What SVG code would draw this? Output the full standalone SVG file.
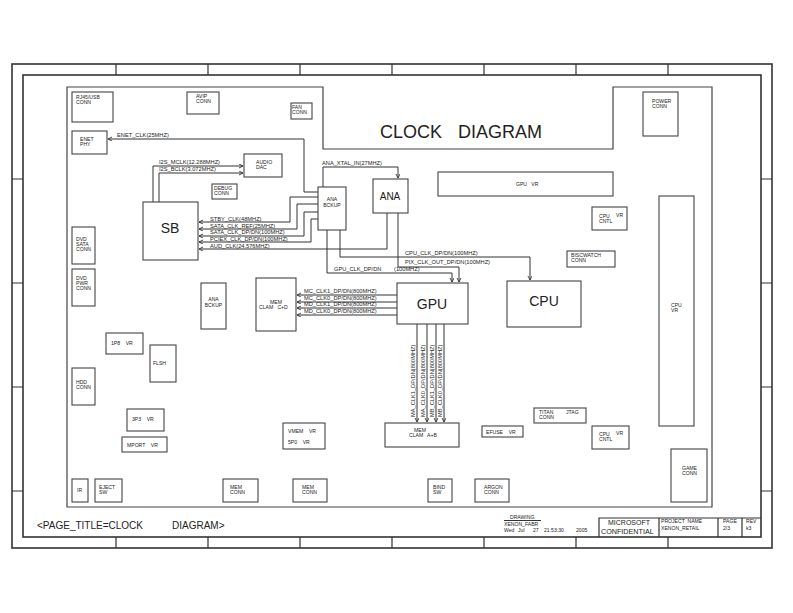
<svg xmlns="http://www.w3.org/2000/svg" width="793" height="613" viewBox="0 0 793 613" xml:space="preserve">
<defs>
<style>
.fr{fill:none;stroke:#333;stroke-width:1.6}
.tk{fill:none;stroke:#333;stroke-width:1.2}
.bd{fill:none;stroke:#444;stroke-width:1.2}
.bx{fill:#fff;stroke:#444;stroke-width:1.1}
.cn{fill:none;stroke:#333;stroke-width:1}
text{font-family:"Liberation Sans",Arial,sans-serif;fill:#222;white-space:pre}
.s{font-size:5.1px}
.l{font-size:5.7px}
.big{font-size:14px}
</style>
<marker id="ar" markerUnits="userSpaceOnUse" markerWidth="6" markerHeight="6" refX="4" refY="2" orient="auto">
<path d="M0,0 L4,2 L0,4" fill="none" stroke="#333" stroke-width="0.9"/>
</marker>
</defs>
<rect width="793" height="613" fill="#fff"/>
<g id="frame">
<rect class="fr" x="12" y="64" width="760" height="484"/>
<rect class="fr" x="23" y="75" width="738" height="462"/>
<path class="tk" d="M116,64V75M208,64V75M300,64V75M392,64V75M484,64V75M576,64V75M668,64V75M116,537V548M208,537V548M300,537V548M392,537V548M484,537V548M576,537V548M668,537V548M12,179H23M12,283H23M12,387H23M12,491H23M761,179H772M761,283H772M761,387H772M761,491H772"/>
<path class="bd" d="M67,87H323V149H613V87H712V507H67Z"/>
<text x="380" y="138" style="font-size:18px">CLOCK</text>
<text x="458" y="138" style="font-size:18px">DIAGRAM</text>
</g>
<g id="connectors" class="cn">
<path class="cn" d="M318,192H304V139H108" marker-end="url(#ar)"/>
<path class="cn" d="M153,202V166H243" marker-end="url(#ar)"/>
<path class="cn" d="M159,202V173H243" marker-end="url(#ar)"/>
<path class="cn" d="M318,197H290V222H199" marker-end="url(#ar)"/>
<path class="cn" d="M318,204H297V229H199" marker-end="url(#ar)"/>
<path class="cn" d="M318,212H304V236H199" marker-end="url(#ar)"/>
<path class="cn" d="M318,219H311V242H199" marker-end="url(#ar)"/>
<path class="cn" d="M387,213V249H199" marker-end="url(#ar)"/>
<path class="cn" d="M323,187V167H398V178" marker-end="url(#ar)"/>
<path class="cn" d="M327,230V273H452V282" marker-end="url(#ar)"/>
<path class="cn" d="M340,230V257H530V280" marker-end="url(#ar)"/>
<path class="cn" d="M398,213V267H459V282" marker-end="url(#ar)"/>
<path class="cn" d="M397,295H297" marker-end="url(#ar)"/>
<path class="cn" d="M397,302H297" marker-end="url(#ar)"/>
<path class="cn" d="M397,308H297" marker-end="url(#ar)"/>
<path class="cn" d="M397,315H297" marker-end="url(#ar)"/>
<path class="cn" d="M417,324V422" marker-end="url(#ar)"/>
<path class="cn" d="M427,324V422" marker-end="url(#ar)"/>
<path class="cn" d="M436,324V422" marker-end="url(#ar)"/>
<path class="cn" d="M444,324V422" marker-end="url(#ar)"/>
</g>
<g id="connector-labels" class="l">
<text class="l" x="117" y="137">ENET_CLK(25MHZ)</text>
<text class="l" x="159" y="164">I2S_MCLK(12.288MHZ)</text>
<text class="l" x="159" y="171">I2S_BCLK(3.072MHZ)</text>
<text class="l" x="322" y="165">ANA_XTAL_IN(27MHZ)</text>
<text class="l" x="210" y="221">STBY_CLK(48MHZ)</text>
<text class="l" x="210" y="228">SATA_CLK_REF(25MHZ)</text>
<text class="l" x="210" y="234">SATA_CLK_DP/DN(100MHZ)</text>
<text class="l" x="210" y="241">PCIEX_CLK_DP/DN(100MHZ)</text>
<text class="l" x="210" y="248">AUD_CLK(24.576MHZ)</text>
<text class="l" x="405" y="255">CPU_CLK_DP/DN(100MHZ)</text>
<text class="l" x="405" y="264">PIX_CLK_OUT_DP/DN(100MHZ)</text>
<text class="l" x="334" y="271">GPU_CLK_DP/DN</text>
<text class="l" x="394" y="271">(100MHZ)</text>
<text class="l" x="304" y="293">MC_CLK1_DP/DN(800MHZ)</text>
<text class="l" x="304" y="300">MC_CLK0_DP/DN(800MHZ)</text>
<text class="l" x="304" y="306">MD_CLK1_DP/DN(800MHZ)</text>
<text class="l" x="304" y="313">MD_CLK0_DP/DN(800MHZ)</text>
<text class="l" transform="translate(415,417) rotate(-90)">MA_CLK1_DP/DN(800MHZ)</text>
<text class="l" transform="translate(425,417) rotate(-90)">MA_CLK0_DP/DN(800MHZ)</text>
<text class="l" transform="translate(434,417) rotate(-90)">MB_CLK1_DP/DN(800MHZ)</text>
<text class="l" transform="translate(442,417) rotate(-90)">MB_CLK0_DP/DN(800MHZ)</text>
</g>
<g id="sb"><rect class="bx" x="143" y="202" width="55" height="58"/><text class="big" x="170" y="233" text-anchor="middle">SB</text></g>
<g id="ana-bckup"><rect class="bx" x="318" y="187" width="28" height="43"/><text class="s" x="332" y="201" text-anchor="middle">ANA</text><text class="s" x="332" y="207" text-anchor="middle">BCKUP</text></g>
<g id="ana"><rect class="bx" x="373" y="179" width="35" height="34"/><text x="390" y="200" text-anchor="middle" style="font-size:10px">ANA</text></g>
<g id="gpu"><rect class="bx" x="397" y="283" width="71" height="41"/><text class="big" x="432" y="309" text-anchor="middle">GPU</text></g>
<g id="cpu"><rect class="bx" x="507" y="281" width="74" height="46"/><text class="big" x="544" y="306" text-anchor="middle">CPU</text></g>
<g id="mem-cd"><rect class="bx" x="256" y="278" width="40" height="53"/><text class="s" x="276" y="303.5" text-anchor="middle">MEM</text><text class="s" x="259" y="309">CLAM   C+D</text></g>
<g id="mem-ab"><rect class="bx" x="385" y="423" width="74" height="24"/><text class="s" x="420" y="431.5" text-anchor="middle">MEM</text><text class="s" x="409" y="437">CLAM   A+B</text></g>
<g id="rj45"><rect class="bx" x="72" y="92" width="41" height="30"/><text class="s" x="76" y="99">RJ45/USB</text><text class="s" x="76" y="104">CONN</text></g>
<g id="avip"><rect class="bx" x="187" y="92" width="32" height="22"/><text class="s" x="196" y="98">AVIP</text><text class="s" x="196" y="103">CONN</text></g>
<g id="fan"><rect class="bx" x="291" y="103" width="21" height="16"/><text class="s" x="292" y="108.5">FAN</text><text class="s" x="292" y="113.5">CONN</text></g>
<g id="enet"><rect class="bx" x="72" y="131" width="35" height="23"/><text class="s" x="80" y="141">ENET</text><text class="s" x="80" y="146">PHY</text></g>
<g id="audio-dac"><rect class="bx" x="244" y="154" width="38" height="23"/><text class="s" x="256" y="164">AUDIO</text><text class="s" x="256" y="169">DAC</text></g>
<g id="debug"><rect class="bx" x="212" y="184" width="25" height="15"/><text class="s" x="214" y="190">DEBUG</text><text class="s" x="214" y="195">CONN</text></g>
<g id="power"><rect class="bx" x="643" y="92" width="35" height="44"/><text class="s" x="652" y="103">POWER</text><text class="s" x="652" y="108">CONN</text></g>
<g id="gpu-vr"><rect class="bx" x="438" y="172" width="175" height="24"/><text class="s" x="516" y="186">GPU   VR</text></g>
<g id="cpu-vr-cntl-1"><rect class="bx" x="592" y="207" width="35" height="23"/><text class="s" x="599" y="218">CPU</text><text class="s" x="616" y="216.5">VR</text><text class="s" x="599" y="223">CNTL</text></g>
<g id="biscwatch"><rect class="bx" x="567" y="251" width="48" height="16"/><text class="s" x="571" y="257">BISCWATCH</text><text class="s" x="571" y="262">CONN</text></g>
<g id="cpu-vr"><rect class="bx" x="659" y="196" width="35" height="230"/><text class="s" x="671" y="307">CPU</text><text class="s" x="671" y="312">VR</text></g>
<g id="dvd-sata"><rect class="bx" x="72" y="227" width="23" height="37"/><text class="s" x="76" y="241">DVD</text><text class="s" x="76" y="246">SATA</text><text class="s" x="76" y="251">CONN</text></g>
<g id="dvd-pwr"><rect class="bx" x="72" y="269" width="23" height="37"/><text class="s" x="76" y="280">DVD</text><text class="s" x="76" y="285">PWR</text><text class="s" x="76" y="290">CONN</text></g>
<g id="hdd"><rect class="bx" x="72" y="368" width="23" height="37"/><text class="s" x="76" y="384">HDD</text><text class="s" x="76" y="389">CONN</text></g>
<g id="ana-bckup-2"><rect class="bx" x="201" y="283" width="25" height="46"/><text class="s" x="213.5" y="301" text-anchor="middle">ANA</text><text class="s" x="213.5" y="307" text-anchor="middle">BCKUP</text></g>
<g id="vr-1p8"><rect class="bx" x="106" y="333" width="37" height="21"/><text class="s" x="111" y="345">1P8    VR</text></g>
<g id="flsh"><rect class="bx" x="150" y="345" width="26" height="37"/><text class="s" x="153" y="365">FLSH</text></g>
<g id="vr-3p3"><rect class="bx" x="127" y="409" width="37" height="22"/><text class="s" x="132" y="421">3P3    VR</text></g>
<g id="mport"><rect class="bx" x="122" y="437" width="45" height="15"/><text class="s" x="127" y="446.5">MPORT    VR</text></g>
<g id="vmem"><rect class="bx" x="283" y="423" width="42" height="26"/><text class="s" x="288" y="433">VMEM    VR</text><text class="s" x="288" y="444">5P0    VR</text></g>
<g id="titan"><rect class="bx" x="534" y="408" width="52" height="15"/><text class="s" x="539" y="414">TITAN</text><text class="s" x="539" y="419">CONN</text><text class="s" x="566" y="414">JTAG</text></g>
<g id="efuse"><rect class="bx" x="482" y="426" width="41" height="11"/><text class="s" x="486" y="433.5">EFUSE    VR</text></g>
<g id="cpu-vr-cntl-2"><rect class="bx" x="592" y="426" width="37" height="23"/><text class="s" x="599" y="436">CPU</text><text class="s" x="616" y="434.5">VR</text><text class="s" x="599" y="441">CNTL</text></g>
<g id="game"><rect class="bx" x="671" y="449" width="36" height="53"/><text class="s" x="682" y="470">GAME</text><text class="s" x="682" y="475">CONN</text></g>
<g id="ir"><rect class="bx" x="72" y="479" width="16" height="23"/><text class="s" x="77" y="492">IR</text></g>
<g id="eject"><rect class="bx" x="95" y="479" width="27" height="23"/><text class="s" x="99" y="489">EJECT</text><text class="s" x="99" y="494">SW</text></g>
<g id="mem-conn-1"><rect class="bx" x="223" y="479" width="35" height="23"/><text class="s" x="230" y="489">MEM</text><text class="s" x="230" y="494">CONN</text></g>
<g id="mem-conn-2"><rect class="bx" x="293" y="479" width="34" height="23"/><text class="s" x="302" y="489">MEM</text><text class="s" x="302" y="494">CONN</text></g>
<g id="bind"><rect class="bx" x="428" y="479" width="24" height="23"/><text class="s" x="433" y="489">BIND</text><text class="s" x="433" y="494">SW</text></g>
<g id="argon"><rect class="bx" x="475" y="479" width="34" height="23"/><text class="s" x="484" y="489">ARGON</text><text class="s" x="484" y="494">CONN</text></g>
<g id="title-block">
<text x="37" y="529" style="font-size:10px">&lt;PAGE_TITLE=CLOCK</text>
<text x="172" y="529" style="font-size:10px">DIAGRAM&gt;</text>
<text class="s" x="510" y="519">DRAWING</text>
<path class="cn" d="M504,520.5H541" stroke-width="0.7"/>
<text class="s" x="504" y="525.5">XENON_FABR</text>
<text class="s" x="504" y="531.5">Wed</text><text class="s" x="518" y="531.5">Jul</text><text class="s" x="533" y="531.5">27</text><text class="s" x="544" y="531.5">21:53:30</text><text class="s" x="576" y="531.5">2005</text>
<path class="tk" d="M599,537V518H761M659,518V537M718,518V537M742,518V537"/>
<text x="608" y="525" style="font-size:7px">MICROSOFT</text>
<text x="601" y="534" style="font-size:7.2px">CONFIDENTIAL</text>
<text class="s" x="661" y="522.5">PROJECT  NAME</text>
<text class="s" x="661" y="529.5">XENON_RETAIL</text>
<text class="s" x="723" y="522.5">PAGE</text>
<text class="s" x="723" y="529.5">2/3</text>
<text class="s" x="746" y="522.5">REV</text>
<text class="s" x="746" y="529.5">k3</text>
</g>
</svg>
